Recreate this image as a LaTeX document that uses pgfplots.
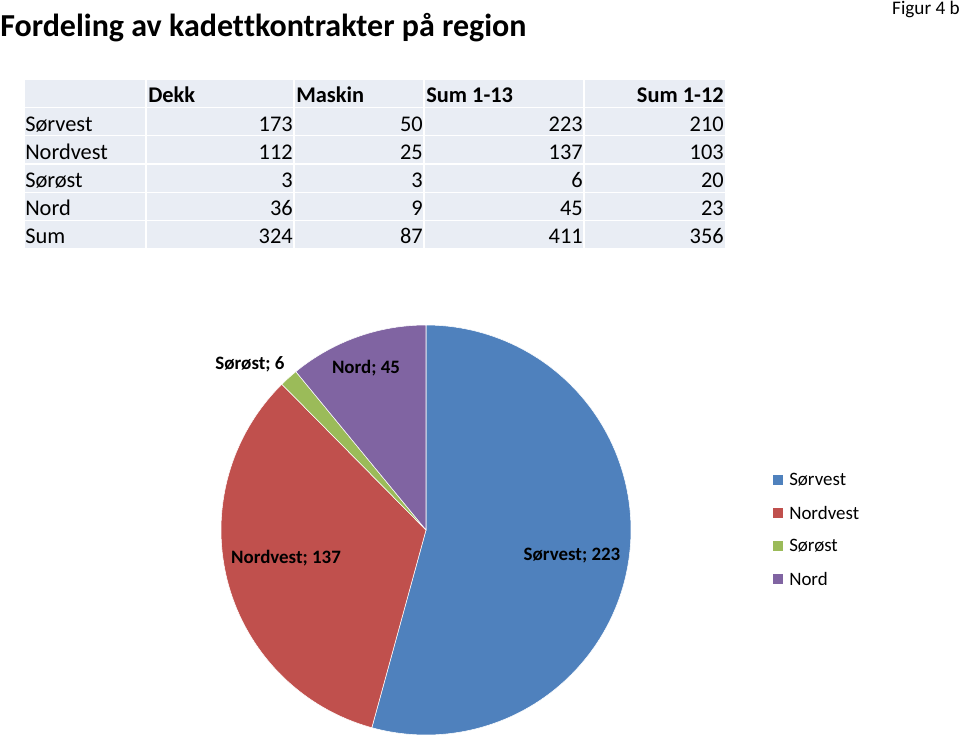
\documentclass[border=0pt]{standalone}
\usepackage{fontspec}
\setmainfont{Carlito}[Ligatures={NoCommon}]
\usepackage{pgfplots}
\pgfplotsset{compat=1.18}
\definecolor{cSV}{HTML}{4F81BD}
\definecolor{cNV}{HTML}{C0504D}
\definecolor{cSO}{HTML}{9BBB59}
\definecolor{cN}{HTML}{8064A2}
\definecolor{tablebg}{HTML}{E9EDF4}
\begin{document}
\begin{tikzpicture}[x=0.75pt,y=-0.75pt]
\useasboundingbox (0,0) rectangle (960,741);
% title
\node[anchor=base west, inner sep=0pt, font=\fontsize{24}{28}\selectfont\bfseries] at (0,36.5) {Fordeling av kadet\kern0pt tkontrakter på region};
\node[anchor=base east, inner sep=0pt, font=\fontsize{14.4}{17}\selectfont] at (960,15) {Figur 4 b};
% table cells
\foreach \r in {0,...,5}{
  \foreach \a/\b in {25/145,147/293,295/423,425/583,585/725}{
    \fill[tablebg] (\a,{80+28.2*\r}) rectangle (\b,{107+28.2*\r});
  }
}
\begin{scope}[every node/.style={inner sep=0pt, font=\fontsize{16.8}{20}\selectfont}]
\node[anchor=base west, font=\fontsize{16.8}{20}\selectfont\bfseries] at (148,103) {Dekk};
\node[anchor=base west, font=\fontsize{16.8}{20}\selectfont\bfseries] at (296,103) {Maskin};
\node[anchor=base west, font=\fontsize{16.8}{20}\selectfont\bfseries] at (426,103) {Sum 1-13};
\node[anchor=base east, font=\fontsize{16.8}{20}\selectfont\bfseries] at (724,103) {Sum 1-12};
\foreach \name/\d/\m/\sa/\sb [count=\i] in {Sørvest/173/50/223/210, Nordvest/112/25/137/103, Sørøst/3/3/6/20, Nord/36/9/45/23, Sum/324/87/411/356}{
  \node[anchor=base west] at (25,{103+28.2*\i}) {\name};
  \node[anchor=base east] at (293,{103+28.2*\i}) {\d};
  \node[anchor=base east] at (423,{103+28.2*\i}) {\m};
  \node[anchor=base east] at (583,{103+28.2*\i}) {\sa};
  \node[anchor=base east] at (724,{103+28.2*\i}) {\sb};
}
\end{scope}
% pie
\coordinate (pc) at (426,530);
\begin{axis}[at={(pc)}, anchor=center, scale only axis,
  width=307.5pt, height=307.5pt,
  xmin=-1, xmax=1, ymin=-1, ymax=1, hide axis, clip=false]
% Sørvest 223, Nordvest 137, Sørøst 6, Nord 45; total 411; clockwise from 90 deg
\addplot[fill=cSV, draw=white, line width=0.4pt, domain={90-223/411*360}:90, samples=120, variable=\t]
  ({cos(t)},{sin(t)}) -- (axis cs:0,0) -- cycle;
\addplot[fill=cNV, draw=white, line width=0.4pt, domain={90-360*(223+137)/411}:{90-223/411*360}, samples=80, variable=\t]
  ({cos(t)},{sin(t)}) -- (axis cs:0,0) -- cycle;
\addplot[fill=cSO, draw=white, line width=0.4pt, domain={90-360*(223+137+6)/411}:{90-360*(223+137)/411}, samples=10, variable=\t]
  ({cos(t)},{sin(t)}) -- (axis cs:0,0) -- cycle;
\addplot[fill=cN, draw=white, line width=0.4pt, domain={90-360*(411)/411}:{90-360*(223+137+6)/411}, samples=40, variable=\t]
  ({cos(t)},{sin(t)}) -- (axis cs:0,0) -- cycle;
\end{axis}
% data labels
\begin{scope}[every node/.style={inner sep=0pt, font=\fontsize{14.2}{17}\selectfont\bfseries}]
\node at (250,364) {Sørøst; 6};
\node at (366,368) {Nord; 45};
\node at (286,558) {Nordvest; 137};
\node at (572,556) {Sørvest; 223};
\end{scope}
% legend
\foreach \c/\t [count=\i from 0] in {cSV/Sørvest, cNV/Nordvest, cSO/Sørøst, cN/Nord}{
  \fill[\c] (773,{475+33*\i}) rectangle (783,{485+33*\i});
  \node[anchor=west, inner sep=0pt, font=\fontsize{14.2}{17}\selectfont] at (789,{480+33*\i}) {\t};
}
\end{tikzpicture}
\end{document}
